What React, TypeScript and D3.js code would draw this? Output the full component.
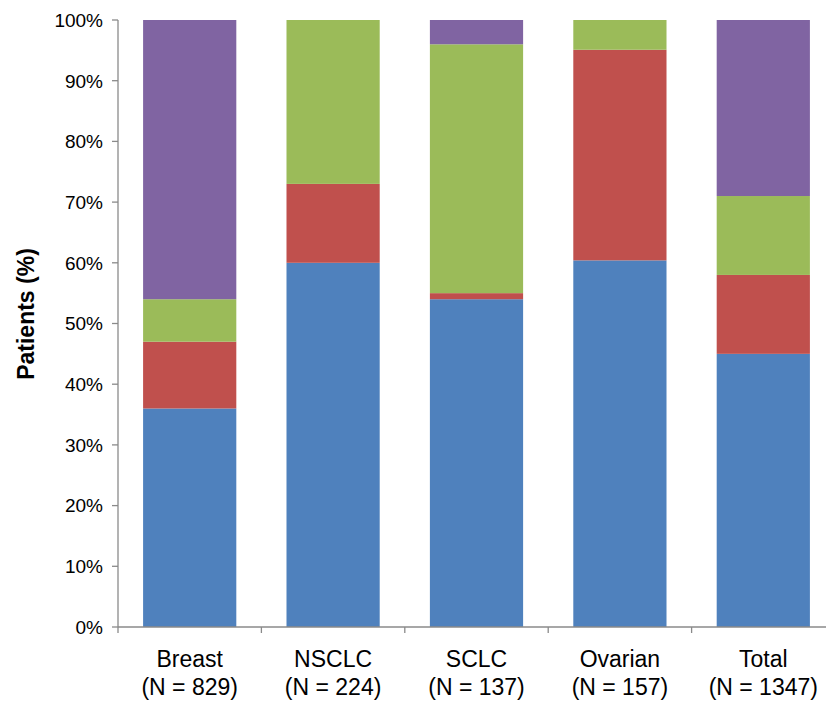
import React from "react";
import * as d3 from "d3";

const categories = ["Breast", "NSCLC", "SCLC", "Ovarian", "Total"];
const sampleSizes = ["(N = 829)", "(N = 224)", "(N = 137)", "(N = 157)", "(N = 1347)"];
const seriesKeys = ["s1", "s2", "s3", "s4"];
const s1 = [36, 60, 54, 60.4, 45];
const s2 = [11, 13, 1, 34.7, 13];
const s3 = [7, 27, 41, 4.9, 13];
const s4 = [46, 0, 4, 0, 29];
const colors = ["#4F81BD", "#C0504D", "#9BBB59", "#8064A2"];
const yTicks = [0, 10, 20, 30, 40, 50, 60, 70, 80, 90, 100];

export default function App() {
  const W = 826, H = 703;
  const left = 118, right = 835, top = 20, bottom = 627;
  const x = d3.scaleBand().domain(categories).range([left, right]).paddingInner(0.35).paddingOuter(0.175);
  const y = d3.scaleLinear().domain([0, 100]).range([bottom, top]);
  const rows = categories.map((c, i) => ({ cat: c, s1: s1[i], s2: s2[i], s3: s3[i], s4: s4[i] }));
  const stacked = d3.stack<any>().keys(seriesKeys)(rows);
  const step = (right - left) / categories.length;
  const font = "'Liberation Sans', Arial, sans-serif";
  return (
    <svg width={W} height={H} style={{ position: "absolute", left: 0, top: 0, background: "#fff" }}>
      {stacked.map((layer, li) => (
        <g key={li} fill={colors[li]}>
          {layer.map((d, i) =>
            d[1] - d[0] > 0 ? (
              <rect key={i} x={x(categories[i])} width={x.bandwidth()} y={y(d[1])} height={y(d[0]) - y(d[1])} />
            ) : null
          )}
        </g>
      ))}
      <g stroke="#8a8a8a" strokeWidth={1.3} fill="none">
        <line x1={left} x2={left} y1={top} y2={bottom} />
        <line x1={left} x2={right} y1={bottom} y2={bottom} />
        {yTicks.map((t) => (
          <line key={t} x1={left - 6} x2={left} y1={y(t)} y2={y(t)} />
        ))}
        {categories.map((c, i) => (
          <line key={c} x1={left + step * i} x2={left + step * i} y1={bottom} y2={bottom + 6} />
        ))}
      </g>
      <g fontFamily={font} fontSize={19} fill="#000">
        {yTicks.map((t) => (
          <text key={t} x={left - 15} y={y(t)} dy="0.36em" textAnchor="end">{t}%</text>
        ))}
      </g>
      <g fontFamily={font} fontSize={23} fill="#000" textAnchor="middle">
        {categories.map((c, i) => (
          <text key={c} x={(x(c) as number) + x.bandwidth() / 2} y={667}>{c}</text>
        ))}
        {categories.map((c, i) => (
          <text key={c + "n"} x={(x(c) as number) + x.bandwidth() / 2} y={695}>{sampleSizes[i]}</text>
        ))}
      </g>
      <text transform="translate(34,314) rotate(-90)" textAnchor="middle" fontFamily={font} fontWeight="bold" fontSize={23}>
        Patients (%)
      </text>
    </svg>
  );
}
